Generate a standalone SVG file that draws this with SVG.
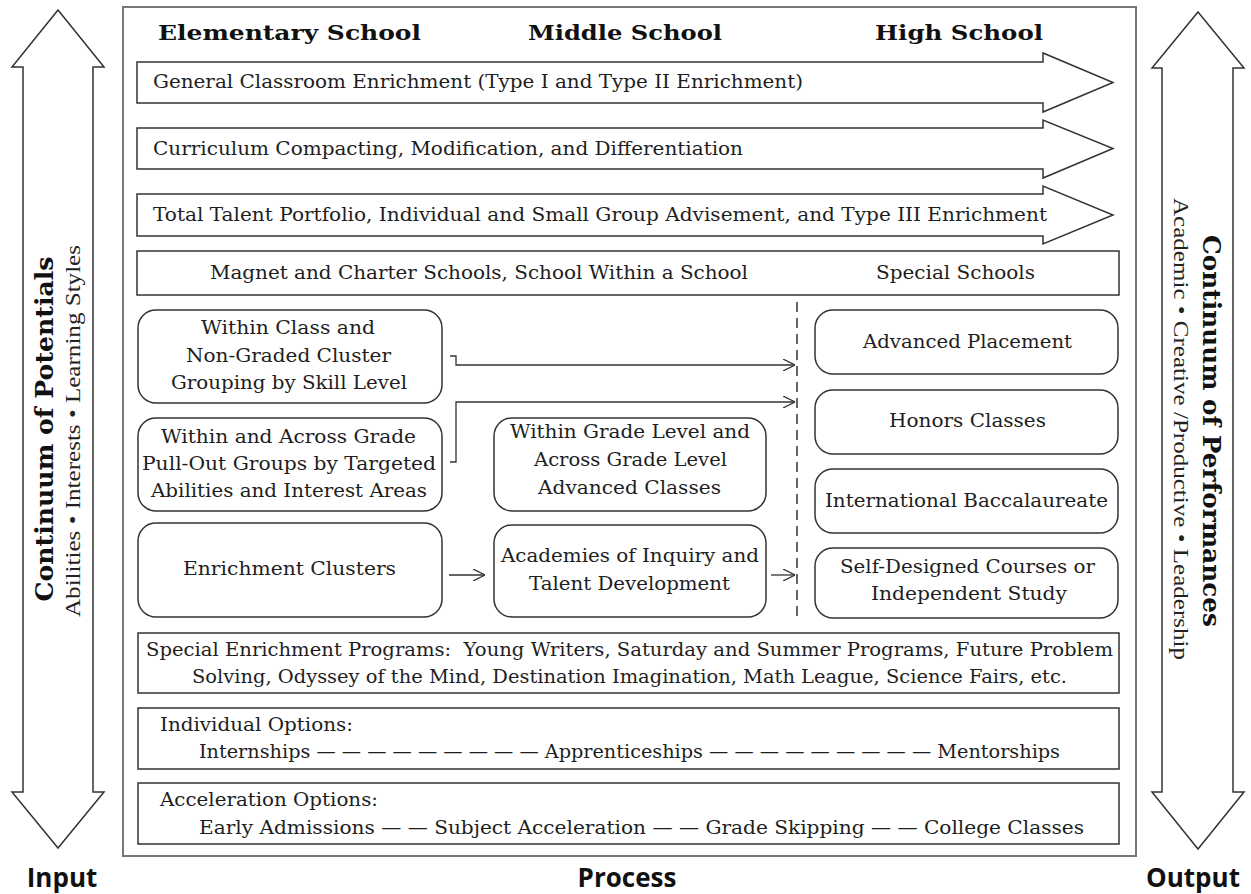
<svg xmlns="http://www.w3.org/2000/svg" width="1251" height="894" viewBox="0 0 1251 894">
<defs>
<style>
.bg{fill:#ffffff}
.outer{fill:#ffffff;stroke:#777;stroke-width:2}
.shape{fill:#ffffff;stroke:#333;stroke-width:1.5}
.rbox{fill:#ffffff;stroke:#333;stroke-width:1.5}
.big{fill:#ffffff;stroke:#333;stroke-width:1.5}
.t{font-family:"DejaVu Serif",serif;font-size:18px;fill:#1e1e1e}
.hdr{font-family:"DejaVu Serif",serif;font-size:21px;font-weight:bold;fill:#111}
.vb{font-family:"DejaVu Serif",serif;font-size:24px;font-weight:bold;fill:#111;text-anchor:middle}
.vs{font-family:"Liberation Serif",serif;font-size:20px;fill:#222;text-anchor:middle}
.lab{font-family:"Open Sans",sans-serif;font-size:26px;font-weight:bold;fill:#111;text-anchor:middle}
.conn{fill:none;stroke:#333;stroke-width:1.3}
.dash{fill:none;stroke:#333;stroke-width:1.5;stroke-dasharray:10 6}
</style>
<marker id="ah" viewBox="0 0 12 12" refX="12" refY="6" markerWidth="12" markerHeight="12" markerUnits="userSpaceOnUse" orient="auto">
<path d="M0,0 L12,6 L0,12" fill="none" stroke="#333" stroke-width="1.3"/>
</marker>
</defs>
<rect class="bg" x="0" y="0" width="1251" height="894"/>

<g id="input-arrow">
<polygon class="big" points="58,10 104,67 93,67 93,792 104,792 58,848 12,792 23,792 23,67 12,67"/>
<text class="vb" transform="translate(53,429) rotate(-90)" textLength="345" lengthAdjust="spacingAndGlyphs">Continuum of Potentials</text>
<text class="vs" transform="translate(80,431) rotate(-90)" font-size="19" textLength="372" lengthAdjust="spacingAndGlyphs">Abilities • Interests • Learning Styles</text>
</g>

<g id="output-arrow">
<polygon class="big" points="1198,12 1244,68 1233,68 1233,792 1244,792 1198,849 1152,792 1162,792 1162,68 1152,68"/>
<text class="vb" transform="translate(1203,431) rotate(90)" textLength="392" lengthAdjust="spacingAndGlyphs">Continuum of Performances</text>
<text class="vs" transform="translate(1174,429) rotate(90)" textLength="462" lengthAdjust="spacingAndGlyphs">Academic • Creative /Productive • Leadership</text>
</g>

<g id="process-frame">
<rect class="outer" x="123" y="7" width="1013" height="849"/>
</g>

<g id="headers">
<text class="hdr" x="158" y="40" textLength="263" lengthAdjust="spacingAndGlyphs">Elementary School</text>
<text class="hdr" x="528" y="40" textLength="194" lengthAdjust="spacingAndGlyphs">Middle School</text>
<text class="hdr" x="875" y="40" textLength="168" lengthAdjust="spacingAndGlyphs">High School</text>
</g>

<g id="band-general">
<polygon class="shape" points="137,62 1043,62 1043,53 1113,82.5 1043,112 1043,103 137,103"/>
<text class="t" x="153" y="88" textLength="650" lengthAdjust="spacingAndGlyphs">General Classroom Enrichment (Type I and Type II Enrichment)</text>
</g>
<g id="band-curriculum">
<polygon class="shape" points="137,128 1043,128 1043,120 1113,148.5 1043,178 1043,169 137,169"/>
<text class="t" x="153" y="155" textLength="590" lengthAdjust="spacingAndGlyphs">Curriculum Compacting, Modification, and Differentiation</text>
</g>
<g id="band-talent">
<polygon class="shape" points="137,194 1043,194 1043,186 1113,215 1043,244 1043,236 137,236"/>
<text class="t" x="153" y="221" textLength="894" lengthAdjust="spacingAndGlyphs">Total Talent Portfolio, Individual and Small Group Advisement, and Type III Enrichment</text>
</g>
<g id="band-magnet">
<rect class="shape" x="137" y="251" width="982" height="44"/>
<text class="t" x="210" y="279" textLength="538" lengthAdjust="spacingAndGlyphs">Magnet and Charter Schools, School Within a School</text>
<text class="t" x="876" y="279" textLength="159" lengthAdjust="spacingAndGlyphs">Special Schools</text>
</g>

<g id="box-within-class">
<rect class="rbox" x="138" y="310" width="304" height="93" rx="18"/>
<text class="t" x="201" y="334" textLength="174" lengthAdjust="spacingAndGlyphs">Within Class and</text>
<text class="t" x="186" y="362" textLength="205" lengthAdjust="spacingAndGlyphs">Non-Graded Cluster</text>
<text class="t" x="171" y="389" textLength="236" lengthAdjust="spacingAndGlyphs">Grouping by Skill Level</text>
</g>
<g id="box-pull-out">
<rect class="rbox" x="138" y="418" width="304" height="93" rx="18"/>
<text class="t" x="161" y="443" textLength="255" lengthAdjust="spacingAndGlyphs">Within and Across Grade</text>
<text class="t" x="142" y="470" textLength="294" lengthAdjust="spacingAndGlyphs">Pull-Out Groups by Targeted</text>
<text class="t" x="151" y="497" textLength="276" lengthAdjust="spacingAndGlyphs">Abilities and Interest Areas</text>
</g>
<g id="box-enrichment-clusters">
<rect class="rbox" x="138" y="523" width="304" height="94" rx="18"/>
<text class="t" x="183" y="575" textLength="213" lengthAdjust="spacingAndGlyphs">Enrichment Clusters</text>
</g>
<g id="box-grade-level">
<rect class="rbox" x="494" y="418" width="272" height="93" rx="18"/>
<text class="t" x="510" y="438" textLength="240" lengthAdjust="spacingAndGlyphs">Within Grade Level and</text>
<text class="t" x="534" y="466" textLength="193" lengthAdjust="spacingAndGlyphs">Across Grade Level</text>
<text class="t" x="538" y="494" textLength="183" lengthAdjust="spacingAndGlyphs">Advanced Classes</text>
</g>
<g id="box-academies">
<rect class="rbox" x="494" y="525" width="272" height="92" rx="18"/>
<text class="t" x="501" y="562" textLength="258" lengthAdjust="spacingAndGlyphs">Academies of Inquiry and</text>
<text class="t" x="529" y="590" textLength="201" lengthAdjust="spacingAndGlyphs">Talent Development</text>
</g>
<g id="box-ap">
<rect class="rbox" x="815" y="310" width="303" height="64" rx="18"/>
<text class="t" x="863" y="348" textLength="209" lengthAdjust="spacingAndGlyphs">Advanced Placement</text>
</g>
<g id="box-honors">
<rect class="rbox" x="815" y="390" width="303" height="64" rx="18"/>
<text class="t" x="889" y="427" textLength="157" lengthAdjust="spacingAndGlyphs">Honors Classes</text>
</g>
<g id="box-ib">
<rect class="rbox" x="815" y="469" width="303" height="64" rx="18"/>
<text class="t" x="825" y="507" textLength="283" lengthAdjust="spacingAndGlyphs">International Baccalaureate</text>
</g>
<g id="box-self-designed">
<rect class="rbox" x="815" y="548" width="303" height="70" rx="18"/>
<text class="t" x="840" y="573" textLength="255" lengthAdjust="spacingAndGlyphs">Self-Designed Courses or</text>
<text class="t" x="871" y="600" textLength="196" lengthAdjust="spacingAndGlyphs">Independent Study</text>
</g>

<g id="connectors">
<line class="dash" x1="797" y1="302" x2="797" y2="622"/>
<path class="conn" d="M450,356 H456 V365 H795" marker-end="url(#ah)"/>
<path class="conn" d="M450,462 H456 V402 H795" marker-end="url(#ah)"/>
<path class="conn" d="M449,575 H485" marker-end="url(#ah)"/>
<path class="conn" d="M771,575 H795" marker-end="url(#ah)"/>
</g>

<g id="box-special-enrichment">
<rect class="shape" x="138" y="633" width="981" height="60"/>
<text class="t" x="146" y="656" textLength="967" lengthAdjust="spacingAndGlyphs">Special Enrichment Programs:&#160; Young Writers, Saturday and Summer Programs, Future Problem</text>
<text class="t" x="192" y="683" textLength="875" lengthAdjust="spacingAndGlyphs">Solving, Odyssey of the Mind, Destination Imagination, Math League, Science Fairs, etc.</text>
</g>
<g id="box-individual">
<rect class="shape" x="138" y="708" width="981" height="61"/>
<text class="t" x="160" y="731" textLength="193" lengthAdjust="spacingAndGlyphs">Individual Options:</text>
<text class="t" x="199" y="758" textLength="861" lengthAdjust="spacingAndGlyphs">Internships — — — — — — — — — Apprenticeships — — — — — — — — — Mentorships</text>
</g>
<g id="box-acceleration">
<rect class="shape" x="138" y="783" width="981" height="61"/>
<text class="t" x="160" y="806" textLength="218" lengthAdjust="spacingAndGlyphs">Acceleration Options:</text>
<text class="t" x="199" y="834" textLength="885" lengthAdjust="spacingAndGlyphs">Early Admissions — — Subject Acceleration — — Grade Skipping — — College Classes</text>
</g>

<g id="labels">
<text class="lab" x="62" y="887">Input</text>
<text class="lab" x="627" y="887">Process</text>
<text class="lab" x="1193" y="887">Output</text>
</g>
</svg>
